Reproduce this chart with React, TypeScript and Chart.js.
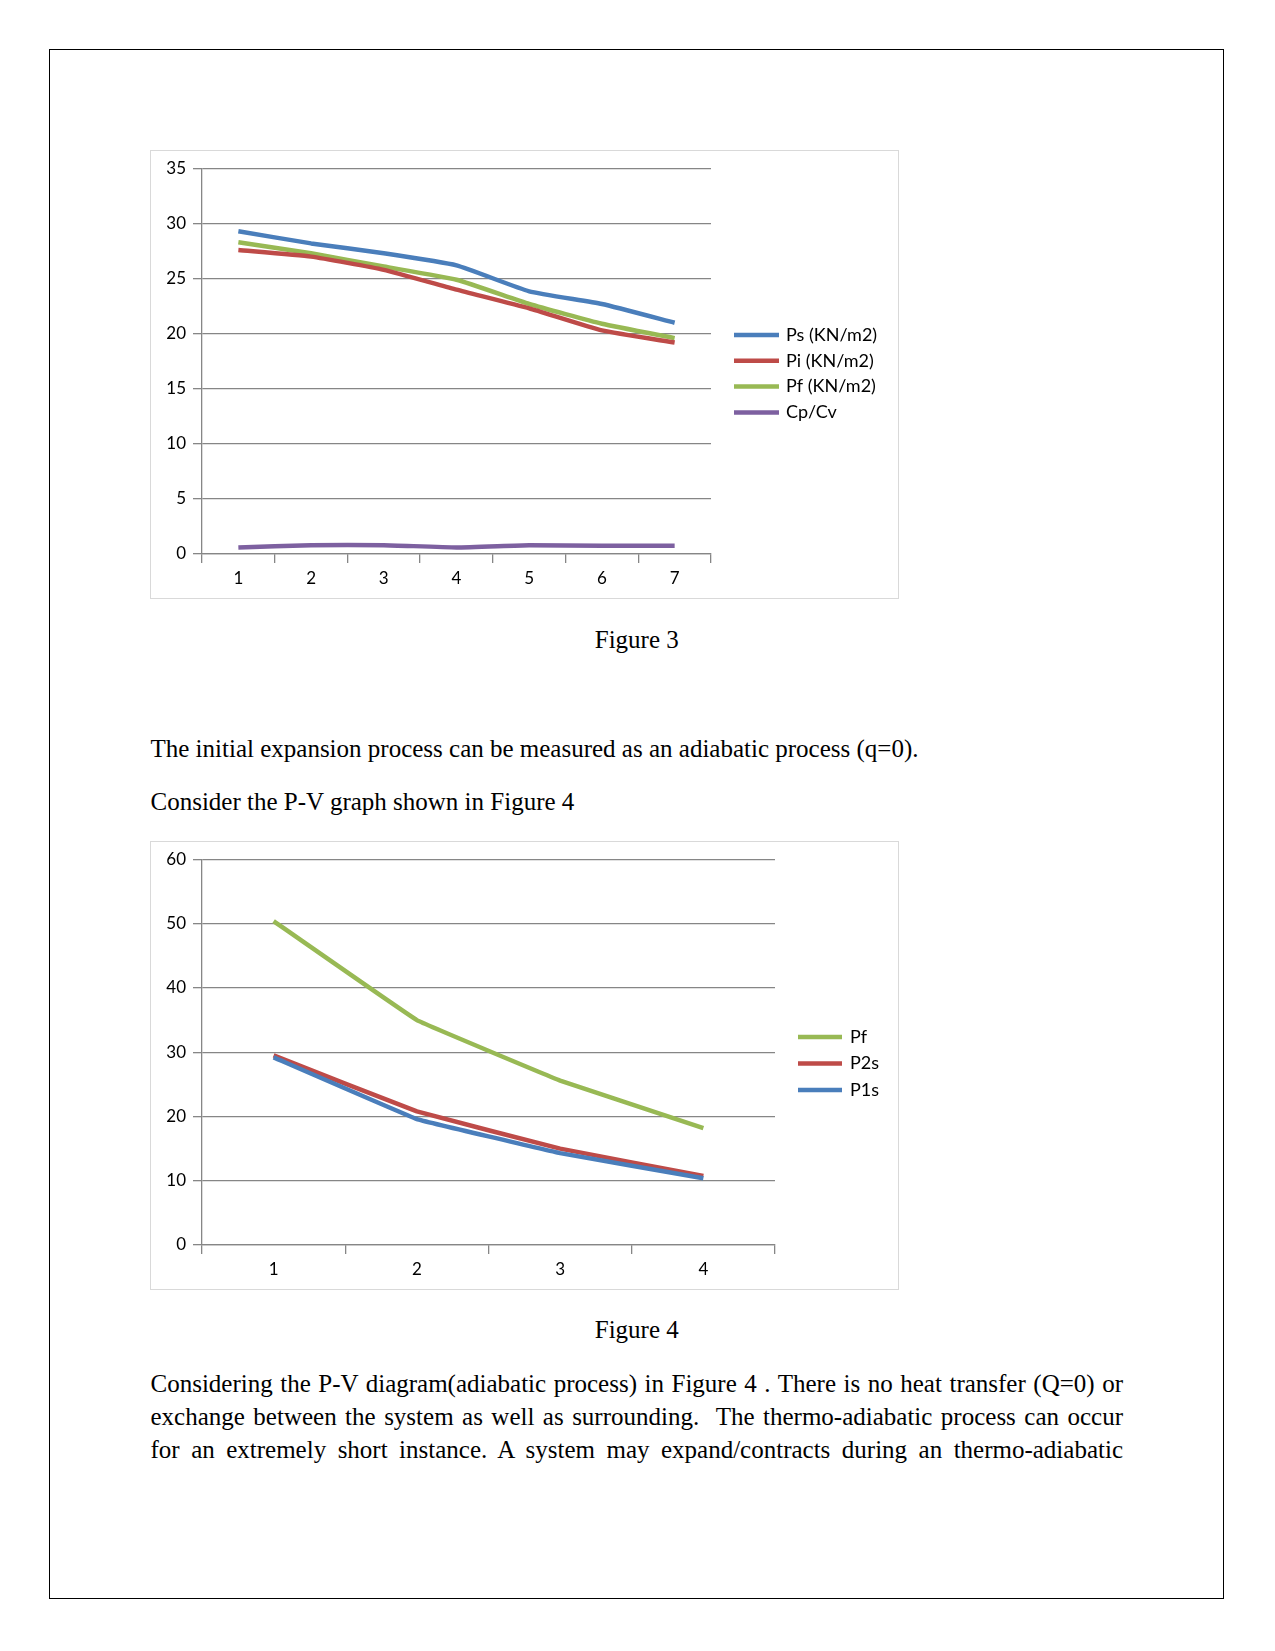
import React, { useEffect, useRef } from "react";
import { Chart, registerables } from "chart.js";

Chart.register(...registerables);

// ---------- Figure 3 data ----------
const fig3Categories = ["1", "2", "3", "4", "5", "6", "7"];
const fig3Ps = [29.3, 28.2, 27.3, 26.2, 23.85, 22.7, 21.0];
const fig3Pi = [27.6, 27.0, 25.8, 24.0, 22.3, 20.3, 19.2];
const fig3Pf = [28.3, 27.3, 26.1, 24.9, 22.7, 20.9, 19.6];
const fig3CpCv = [0.6, 0.8, 0.8, 0.6, 0.8, 0.75, 0.75];
const fig3SeriesNames = ["Ps (KN/m2)", "Pi (KN/m2)", "Pf (KN/m2)", "Cp/Cv"];
const fig3YMax = 35;
const fig3YStep = 5;

// ---------- Figure 4 data ----------
const fig4Categories = ["1", "2", "3", "4"];
const fig4Pf = [50.4, 35.0, 25.6, 18.2];
const fig4P2s = [29.5, 20.8, 15.0, 10.75];
const fig4P1s = [29.2, 19.6, 14.3, 10.4];
const fig4SeriesNames = ["Pf", "P2s", "P1s"];
const fig4YMax = 60;
const fig4YStep = 10;

const BLUE = "#4A7EBB";
const RED = "#BE4B48";
const GREEN = "#98B954";
const PURPLE = "#7D60A0";
const GRID = "#868686";
const FONT = "Lato";

const sideLegend = {
  id: "sideLegend",
  afterDraw(chart: any, _args: any, opts: any) {
    const ctx = chart.ctx;
    ctx.save();
    ctx.font = `${opts.fontSize}px ${FONT}`;
    ctx.textBaseline = "middle";
    ctx.textAlign = "left";
    opts.order.forEach((di: number, i: number) => {
      const ds = chart.data.datasets[di];
      const cy = opts.y + i * opts.gap;
      ctx.strokeStyle = ds.borderColor;
      ctx.lineWidth = 4.5;
      ctx.beginPath();
      ctx.moveTo(opts.x, cy);
      ctx.lineTo(opts.x + opts.lineLen, cy);
      ctx.stroke();
      ctx.fillStyle = "#000";
      ctx.fillText(ds.label, opts.x + opts.lineLen + opts.textGap, cy);
    });
    ctx.restore();
  },
};

function makeOptions(yMax: number, yStep: number, rightPad: number, legend: any, tension: number) {
  return {
    responsive: false,
    animation: false,
    devicePixelRatio: 1,
    layout: { padding: { top: 17.5, right: rightPad, left: 0, bottom: 0 } },
    elements: {
      point: { radius: 0, hoverRadius: 0 },
      line: { borderWidth: 4.5, tension, borderCapStyle: "butt", borderJoinStyle: "round" },
    },
    plugins: {
      legend: { display: false },
      tooltip: { enabled: false },
      sideLegend: legend,
    },
    scales: {
      x: {
        type: "category",
        offset: true,
        afterFit: (s: any) => {
          s.height = 44;
        },
        grid: {
          offset: true,
          drawOnChartArea: false,
          drawTicks: true,
          tickLength: 9,
          color: GRID,
          lineWidth: 1.3,
        },
        border: { display: true, color: GRID, width: 1.3 },
        ticks: { color: "#000", font: { family: FONT, size: 17 }, padding: 5, maxRotation: 0 },
      },
      y: {
        min: 0,
        max: yMax,
        afterFit: (s: any) => {
          s.width = 51;
        },
        grid: { color: GRID, lineWidth: 1.3, drawTicks: true, tickLength: 9 },
        border: { display: true, color: GRID, width: 1.3 },
        ticks: { stepSize: yStep, color: "#000", font: { family: FONT, size: 17 }, padding: 7 },
      },
    },
  };
}

function LineChart({ config, width, height }: { config: () => any; width: number; height: number }) {
  const ref = useRef<HTMLCanvasElement | null>(null);
  useEffect(() => {
    let chart: any = null;
    let cancelled = false;
    const build = () => {
      if (cancelled || !ref.current) return;
      chart = new Chart(ref.current, config());
    };
    (document as any).fonts && (document as any).fonts.load
      ? Promise.all([
          (document as any).fonts.load(`17px ${FONT}`),
          (document as any).fonts.load(`18px ${FONT}`),
        ]).then(build, build)
      : build();
    return () => {
      cancelled = true;
      if (chart) chart.destroy();
    };
  }, []);
  return <canvas ref={ref} width={width} height={height} style={{ display: "block", width, height }} />;
}

const fig3Config = () => ({
  type: "line",
  data: {
    labels: fig3Categories,
    datasets: [
      { label: fig3SeriesNames[0], data: fig3Ps, borderColor: BLUE, backgroundColor: BLUE },
      { label: fig3SeriesNames[1], data: fig3Pi, borderColor: RED, backgroundColor: RED },
      { label: fig3SeriesNames[2], data: fig3Pf, borderColor: GREEN, backgroundColor: GREEN },
      { label: fig3SeriesNames[3], data: fig3CpCv, borderColor: PURPLE, backgroundColor: PURPLE },
    ],
  },
  options: makeOptions(fig3YMax, fig3YStep, 187, { x: 583, y: 184, gap: 25.8, lineLen: 45, textGap: 7, fontSize: 18, order: [0, 1, 2, 3] }, 0.15),
  plugins: [sideLegend],
});

const fig4Config = () => ({
  type: "line",
  data: {
    labels: fig4Categories,
    datasets: [
      { label: fig4SeriesNames[2], data: fig4P1s, borderColor: BLUE, backgroundColor: BLUE },
      { label: fig4SeriesNames[1], data: fig4P2s, borderColor: RED, backgroundColor: RED },
      { label: fig4SeriesNames[0], data: fig4Pf, borderColor: GREEN, backgroundColor: GREEN },
    ],
  },
  options: makeOptions(fig4YMax, fig4YStep, 123, { x: 647, y: 195, gap: 26.5, lineLen: 44, textGap: 8, fontSize: 18, order: [2, 1, 0] }, 0.05),
  plugins: [sideLegend],
});

const serif = '"Liberation Serif", "Times New Roman", serif';
const FS = 25;

function Line({ top, children, center, justify }: any) {
  return (
    <div
      style={{
        position: "absolute",
        left: 150.5,
        width: 972.5,
        top: top - 16,
        height: 32,
        lineHeight: "32px",
        fontFamily: serif,
        fontSize: FS,
        color: "#000",
        whiteSpace: justify ? "normal" : "nowrap",
        textAlign: center ? "center" : justify ? "justify" : "left",
        textAlignLast: justify ? "justify" : undefined,
      } as any}
    >
      {children}
    </div>
  );
}

export default function App() {
  return (
    <div style={{ position: "absolute", left: 0, top: 0, width: 1275, height: 1651, background: "#fff" }}>
      <div
        style={{
          position: "absolute",
          left: 49,
          top: 49,
          width: 1175,
          height: 1550,
          border: "1px solid #000",
          boxSizing: "border-box",
        }}
      />
      <div
        style={{
          position: "absolute",
          left: 150,
          top: 150,
          width: 749,
          height: 449,
          border: "1px solid #D9D9D9",
          boxSizing: "border-box",
        }}
      >
        <LineChart config={fig3Config} width={747} height={447} />
      </div>
      <div
        style={{
          position: "absolute",
          left: 150,
          top: 841,
          width: 749,
          height: 449,
          border: "1px solid #D9D9D9",
          boxSizing: "border-box",
        }}
      >
        <LineChart config={fig4Config} width={747} height={447} />
      </div>
      <Line top={640} center>Figure 3</Line>
      <Line top={748.5}>The initial expansion process can be measured as an adiabatic process (q=0).</Line>
      <Line top={802}>Consider the P-V graph shown in Figure 4</Line>
      <Line top={1330} center>Figure 4</Line>
      <Line top={1384.4} justify>
        Considering the P-V diagram(adiabatic process) in Figure 4 . There is no heat transfer (Q=0) or
      </Line>
      <Line top={1417} justify>
        exchange between the system as well as surrounding.&nbsp; The thermo-adiabatic process can occur
      </Line>
      <Line top={1449.7} justify>
        for an extremely short instance. A system may expand/contracts during an thermo-adiabatic
      </Line>
    </div>
  );
}
